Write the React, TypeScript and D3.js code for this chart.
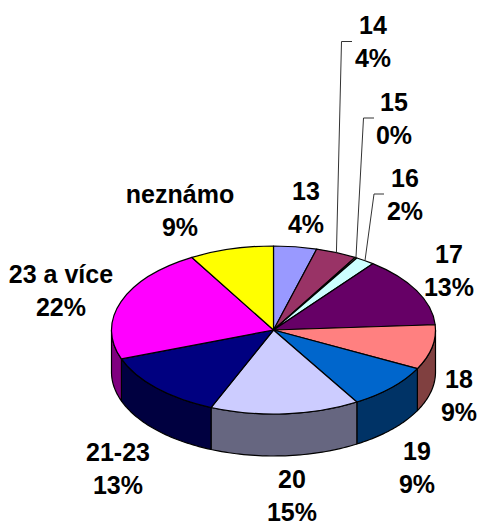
import React from 'react';
import * as d3 from 'd3';

const categories = ['13', '14', '15', '16', '17', '18', '19', '20', '21-23', '23 a více', 'neznámo'];
const values = [4.3, 4.1, 0.2, 1.9, 13.5, 8.6, 8.8, 14.9, 13.1, 22.2, 8.4];
const percentLabels = ['4%', '4%', '0%', '2%', '13%', '9%', '9%', '15%', '13%', '22%', '9%'];
const topColors = ['#9999FF', '#993366', '#FFFFCC', '#CCFFFF', '#660066', '#FF8080', '#0066CC', '#CCCCFF', '#000080', '#FF00FF', '#FFFF00'];
const sideColors = ['#4D4D80', '#4D1A33', '#808066', '#668080', '#330033', '#804040', '#003366', '#666680', '#000040', '#800080', '#808000'];

// label centre x and first baseline
const labelX = [306, 373, 394, 405, 449, 459, 417, 292, 118, 61, 180];
const labelY = [200, 34, 111, 187, 263, 388, 460, 488, 461, 283, 203];
// elbow of the leader lines, only the narrow slices have one
const leaders: Record<string, number[][]> = {
  '14': [[341.5, 41.5], [352, 41.5]],
  '15': [[363.5, 118], [374, 118]],
  '16': [[374, 194], [384, 194]],
};

const width = 478;
const height = 522;
const cx = 273.5;
const cy = 330;
const rx = 162;
const ry = 84;
const depth = 42;
const lineGap = 33;

const pie = d3.pie<number>().sort(null).startAngle(0).endAngle(2 * Math.PI);
const arcs = pie(values);
const arc = d3.arc<d3.PieArcDatum<number>>().innerRadius(0).outerRadius(rx);
const line = d3.line();

const px = (a: number) => cx + rx * Math.sin(a);
const py = (a: number) => cy - ry * Math.cos(a);

// wall below the front part of the rim
const wallPath = (start: number, end: number) => {
  const a0 = Math.max(start, Math.PI / 2);
  const a1 = Math.min(end, (3 * Math.PI) / 2);
  if (a1 <= a0) return null;
  const angles = d3.range(0, 41).map(i => a0 + ((a1 - a0) * i) / 40);
  const upper = angles.map(a => [px(a), py(a)] as [number, number]);
  const lower = angles.slice().reverse().map(a => [px(a), py(a) + depth] as [number, number]);
  return line([...upper, ...lower]) + 'Z';
};

export default function App() {
  return (
    <svg
      width={width}
      height={height}
      style={{ position: 'absolute', left: 0, top: 0 }}
      fontFamily="'Liberation Sans', Arial, sans-serif"
      fontWeight="bold"
      fontSize={25}
    >
      {arcs.map((d, i) => {
        const wall = wallPath(d.startAngle, d.endAngle);
        return wall ? <path key={i} d={wall} fill={sideColors[i]} stroke="#000" strokeWidth={1.2} strokeLinejoin="round" /> : null;
      })}
      <g transform={`translate(${cx},${cy}) scale(1,${ry / rx})`}>
        {arcs.map((d, i) => (
          <path
            key={i}
            d={arc(d) as string}
            fill={topColors[i]}
            stroke="#000"
            strokeWidth={1.2}
            strokeLinejoin="round"
            vectorEffect="non-scaling-stroke"
          />
        ))}
      </g>
      {arcs.map((d, i) => {
        const elbow = leaders[categories[i]];
        if (!elbow) return null;
        const mid = (d.startAngle + d.endAngle) / 2;
        const pts = [[px(mid), py(mid)], ...elbow] as [number, number][];
        return <path key={i} d={line(pts) as string} fill="none" stroke="#333" strokeWidth={1} />;
      })}
      {categories.map((c, i) => (
        <text key={c} textAnchor="middle" fill="#000">
          <tspan x={labelX[i]} y={labelY[i]}>{c}</tspan>
          <tspan x={labelX[i]} y={labelY[i] + lineGap}>{percentLabels[i]}</tspan>
        </text>
      ))}
    </svg>
  );
}
